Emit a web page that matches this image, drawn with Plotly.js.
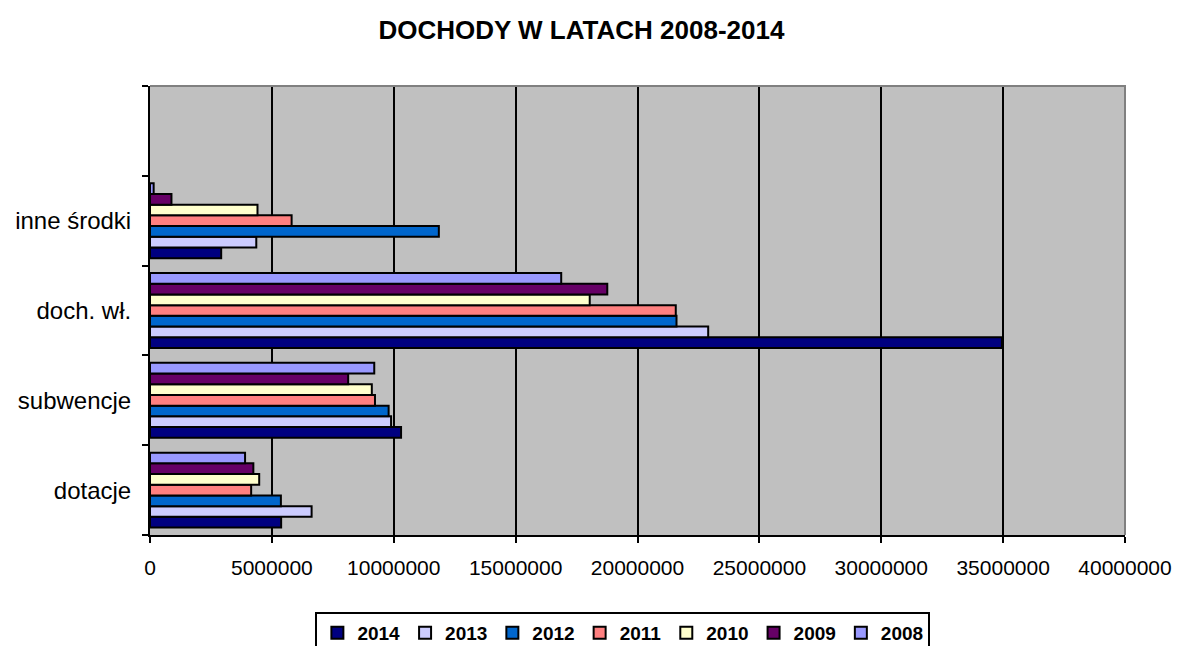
<!DOCTYPE html>
<html>
<head>
<meta charset="utf-8">
<script src="https://cdn.plot.ly/plotly-3.0.1.min.js"></script>
<style>html,body{margin:0;padding:0;background:#fff;}#chart{width:1177px;height:646px;}</style>
</head>
<body>
<div id="chart"></div>
<script>
// Categories (bottom to top); last one is the empty band at the top
var categories = ["dotacje", "subwencje", "doch. wł.", "inne środki", " "];
var years = ["2014", "2013", "2012", "2011", "2010", "2009", "2008"];
var colors = ["#000080", "#CCCCFF", "#0066CC", "#FF8080", "#FFFFCC", "#660066", "#9999FF"];

// values per year: [dotacje, subwencje, doch. wł., inne środki, (empty)]
var v2014 = [5380000, 10300000, 34950000, 2920000, null];
var v2013 = [6630000, 9890000, 22900000, 4360000, null];
var v2012 = [5370000, 9790000, 21600000, 11850000, null];
var v2011 = [4150000, 9230000, 21570000, 5810000, null];
var v2010 = [4480000, 9100000, 18040000, 4410000, null];
var v2009 = [4240000, 8130000, 18760000, 880000, null];
var v2008 = [3900000, 9200000, 16870000, 150000, null];
var series = [v2014, v2013, v2012, v2011, v2010, v2009, v2008];

var xTicks = [0, 5000000, 10000000, 15000000, 20000000, 25000000, 30000000, 35000000, 40000000];

var FONT = "Liberation Sans, Arial, sans-serif";

var traces = years.map(function (yr, i) {
  return {
    type: "bar",
    orientation: "h",
    name: yr,
    y: categories,
    x: series[i],
    marker: { color: colors[i], line: { color: "#000000", width: 2 } },
    hoverinfo: "x+name"
  };
});

var layout = {
  width: 1177,
  height: 646,
  margin: { l: 150, r: 52, t: 86, b: 111, autoexpand: false },
  paper_bgcolor: "#ffffff",
  plot_bgcolor: "#C0C0C0",
  barmode: "group",
  bargap: 0.166,
  bargroupgap: 0,
  showlegend: true,
  title: {
    text: "<b>DOCHODY W LATACH 2008-2014</b>",
    font: { family: FONT, size: 26, color: "#000000" },
    x: 0.494, xanchor: "center", y: 0.953, yanchor: "middle"
  },
  xaxis: {
    range: [0, 40000000],
    tickvals: xTicks,
    ticktext: xTicks.map(function (t) { return String(t); }),
    showgrid: true,
    gridcolor: "#000000",
    gridwidth: 2,
    zeroline: false,
    showline: true,
    linecolor: "#000000",
    linewidth: 2,
    ticks: "outside",
    ticklen: 6,
    tickwidth: 2,
    tickcolor: "#000000",
    tickfont: { family: FONT, size: 21, color: "#000000" },
    ticklabelstandoff: 7,
    fixedrange: true
  },
  yaxis: {
    type: "category",
    categoryorder: "array",
    categoryarray: categories,
    range: [-0.5, 4.5],
    tickson: "boundaries",
    ticks: "outside",
    ticklen: 6,
    tickwidth: 2,
    tickcolor: "#000000",
    showgrid: false,
    zeroline: false,
    showline: true,
    linecolor: "#000000",
    linewidth: 2,
    tickfont: { family: FONT, size: 24, color: "#000000" },
    ticklabelstandoff: 12,
    fixedrange: true
  },
  legend: {
    orientation: "h",
    x: 0.485, xanchor: "center",
    y: -0.171, yanchor: "top",
    bgcolor: "#ffffff",
    bordercolor: "#000000",
    borderwidth: 2,
    font: { family: FONT, size: 19, color: "#000000", weight: "bold" },
    traceorder: "normal",
    itemwidth: 30,
    itemclick: false,
    itemdoubleclick: false
  },
  shapes: [
    {
      type: "path", xref: "paper", yref: "paper",
      path: "M 0 1 L 1 1 L 1 0",
      line: { color: "#808080", width: 2 },
      layer: "above"
    }
  ]
};

Plotly.newPlot("chart", traces, layout, { displayModeBar: false, staticPlot: true });
</script>
</body>
</html>
